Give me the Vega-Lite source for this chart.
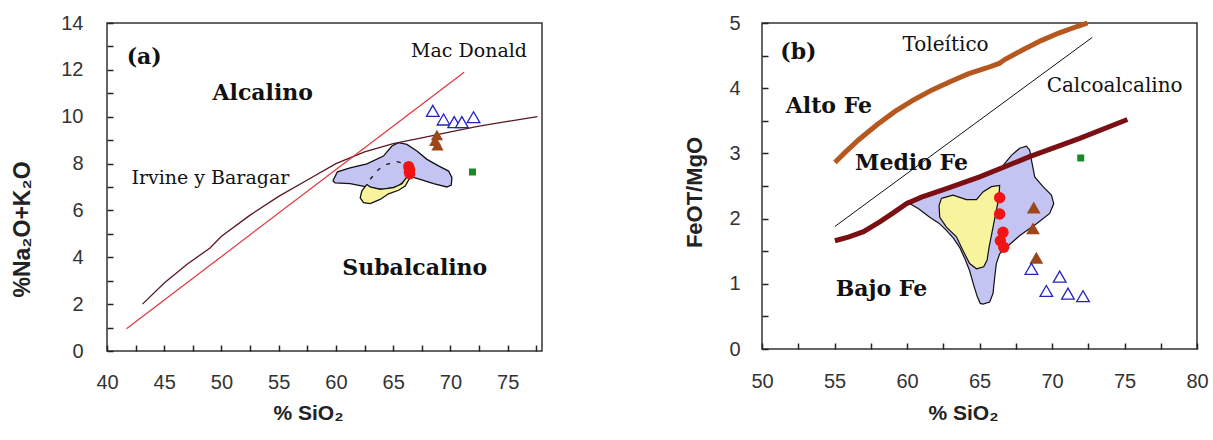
{
  "$schema": "https://vega.github.io/schema/vega-lite/v6.json",
  "padding": {"left": 10, "top": 12, "right": 0, "bottom": 0},
  "bounds": "flush",
  "spacing": 220,
  "background": "white",
  "hconcat": [
    {
      "width": 435,
      "height": 328,
      "encoding": {
        "x": {"field": "x", "type": "quantitative",
          "scale": {"domain": [40, 78], "nice": false, "zero": false},
          "axis": {"values": [40, 42.5, 45, 47.5, 50, 52.5, 55, 57.5, 60, 62.5, 65, 67.5, 70, 72.5, 75, 77.5],
            "labelExpr": "datum.value % 5 === 0 ? datum.label : ''",
            "labelPadding": 21, "title": "% SiO₂", "titleX": 201, "titleY": 57, "titleBaseline": "top", "titleAlign": "center"}},
        "y": {"field": "y", "type": "quantitative",
          "scale": {"domain": [0, 14], "nice": false},
          "axis": {"values": [0, 1, 2, 3, 4, 5, 6, 7, 8, 9, 10, 11, 12, 13, 14],
            "labelExpr": "datum.value % 2 === 0 ? datum.label : ''",
            "labelPadding": 24, "title": "%Na₂O+K₂O", "titleFontSize": 23, "titleAngle": -90, "titleX": -79, "titleY": 206, "titleBaseline": "bottom", "titleAlign": "center"}}
      },
      "layer": [
        {
          "data": {"values": [
            {"x": 59.73, "y": 7.26}, {"x": 60.13, "y": 7.65}, {"x": 61.24, "y": 7.82}, {"x": 62.70, "y": 7.99},
            {"x": 64.15, "y": 8.32}, {"x": 64.89, "y": 8.75}, {"x": 65.47, "y": 8.89}, {"x": 66.20, "y": 8.82},
            {"x": 67.07, "y": 8.54}, {"x": 67.95, "y": 8.18}, {"x": 68.96, "y": 7.90}, {"x": 69.84, "y": 7.68},
            {"x": 70.13, "y": 7.40}, {"x": 70.07, "y": 7.08}, {"x": 69.69, "y": 7.00}, {"x": 68.53, "y": 7.14},
            {"x": 67.36, "y": 7.33}, {"x": 66.63, "y": 7.43}, {"x": 66.05, "y": 7.26}, {"x": 65.32, "y": 7.00},
            {"x": 64.15, "y": 6.90}, {"x": 62.99, "y": 6.97}, {"x": 61.24, "y": 7.14}, {"x": 59.93, "y": 7.18},
            {"x": 59.73, "y": 7.26}
          ]},
          "mark": {"type": "line", "fill": "#c4c4f2", "stroke": "#111111", "strokeWidth": 1.3},
          "encoding": {"order": {"value": null}}
        },
        {
          "data": {"values": [
            {"x": 62.70, "y": 7.11}, {"x": 62.26, "y": 6.83}, {"x": 62.12, "y": 6.54}, {"x": 62.41, "y": 6.33},
            {"x": 62.99, "y": 6.29}, {"x": 63.86, "y": 6.47}, {"x": 64.59, "y": 6.71}, {"x": 65.47, "y": 6.86},
            {"x": 66.05, "y": 7.04}, {"x": 66.43, "y": 7.37}, {"x": 66.20, "y": 7.43}, {"x": 65.76, "y": 7.14},
            {"x": 65.03, "y": 6.97}, {"x": 63.86, "y": 6.90}, {"x": 62.99, "y": 7.00}, {"x": 62.70, "y": 7.11}
          ]},
          "mark": {"type": "line", "fill": "#f8f49e", "stroke": "#111111", "strokeWidth": 1.3},
          "encoding": {"order": {"value": null}}
        },
        {
          "data": {"values": [
            {"x": 62.99, "y": 7.33}, {"x": 63.72, "y": 7.75}, {"x": 64.45, "y": 7.97}, {"x": 65.32, "y": 8.08},
            {"x": 66.05, "y": 7.99}, {"x": 66.83, "y": 7.61}
          ]},
          "mark": {"type": "line", "stroke": "#111111", "strokeWidth": 1.3, "strokeDash": [4, 7]},
          "encoding": {"order": {"value": null}}
        },
        {
          "data": {"values": [
            {"x": 43.1, "y": 2.0}, {"x": 45, "y": 2.9}, {"x": 47, "y": 3.7}, {"x": 49, "y": 4.4}, {"x": 50, "y": 4.9},
            {"x": 52.5, "y": 5.8}, {"x": 55, "y": 6.6}, {"x": 57.5, "y": 7.3}, {"x": 60, "y": 8.0}, {"x": 62.5, "y": 8.5},
            {"x": 65, "y": 8.85}, {"x": 67.5, "y": 9.1}, {"x": 70, "y": 9.35}, {"x": 72.5, "y": 9.6}, {"x": 75, "y": 9.8},
            {"x": 77.6, "y": 10.0}
          ]},
          "mark": {"type": "line", "color": "#5a1822", "strokeWidth": 1.3},
          "encoding": {"order": {"value": null}}
        },
        {
          "data": {"values": [{"x": 41.7, "y": 0.95}, {"x": 71.2, "y": 11.9}]},
          "mark": {"type": "line", "color": "#e0363a", "strokeWidth": 1.2},
          "encoding": {"order": {"value": null}}
        },
        {
          "data": {"values": [
            {"x": 66.35, "y": 7.88}, {"x": 66.4, "y": 7.8}, {"x": 66.45, "y": 7.72}, {"x": 66.4, "y": 7.64}, {"x": 66.45, "y": 7.56}
          ]},
          "mark": {"type": "point", "shape": "circle", "filled": true, "color": "#f01414", "opacity": 1, "size": 121}
        },
        {
          "data": {"values": [{"x": 68.82, "y": 9.22}, {"x": 68.67, "y": 8.98}, {"x": 68.87, "y": 8.78}]},
          "mark": {"type": "point", "shape": "triangle-up", "filled": true, "color": "#9c461c", "opacity": 1, "size": 150}
        },
        {
          "data": {"values": [
            {"x": 68.46, "y": 10.25}, {"x": 69.4, "y": 9.88}, {"x": 70.33, "y": 9.77}, {"x": 71.0, "y": 9.77}, {"x": 72.02, "y": 9.98}
          ]},
          "mark": {"type": "point", "shape": "triangle-up", "filled": false, "fill": "white", "stroke": "#2424bb", "strokeWidth": 1.3, "opacity": 1, "size": 160}
        },
        {
          "data": {"values": [{"x": 71.93, "y": 7.64}]},
          "mark": {"type": "point", "shape": "square", "filled": true, "color": "#1a8a28", "opacity": 1, "size": 49}
        },
        {
          "data": {"values": [{"x": 66.56, "y": 12.8, "t": "Mac Donald"}, {"x": 42.13, "y": 7.4, "t": "Irvine y Baragar"}]},
          "mark": {"type": "text", "align": "left", "baseline": "middle", "font": "DejaVu Serif", "fontSize": 19, "color": "#111111"},
          "encoding": {"text": {"field": "t"}}
        },
        {
          "data": {"values": [{"x": 49.22, "y": 11.02, "t": "Alcalino"}, {"x": 60.56, "y": 3.56, "t": "Subalcalino"}]},
          "mark": {"type": "text", "align": "left", "baseline": "middle", "font": "DejaVu Serif", "fontSize": 22, "fontWeight": "bold", "color": "#111111"},
          "encoding": {"text": {"field": "t"}}
        },
        {
          "data": {"values": [{"x": 41.72, "y": 12.56, "t": "(a)"}]},
          "mark": {"type": "text", "align": "left", "baseline": "middle", "font": "DejaVu Serif", "fontSize": 22, "fontWeight": "bold", "color": "#111111"},
          "encoding": {"text": {"field": "t"}}
        }
      ]
    },
    {
      "width": 435,
      "height": 326,
      "encoding": {
        "x": {"field": "x", "type": "quantitative",
          "scale": {"domain": [50, 80], "nice": false, "zero": false},
          "axis": {"values": [50, 52.5, 55, 57.5, 60, 62.5, 65, 67.5, 70, 72.5, 75, 77.5, 80],
            "labelExpr": "datum.value % 5 === 0 ? datum.label : ''",
            "labelPadding": 22, "title": "% SiO₂", "titleX": 201, "titleY": 59, "titleBaseline": "top", "titleAlign": "center"}},
        "y": {"field": "y", "type": "quantitative",
          "scale": {"domain": [0, 5], "nice": false},
          "axis": {"values": [0, 0.5, 1, 1.5, 2, 2.5, 3, 3.5, 4, 4.5, 5], "format": ".0f",
            "labelExpr": "datum.value % 1 === 0 ? datum.label : ''",
            "labelPadding": 22, "title": "FeOT/MgO", "titleFontSize": 22, "titleAngle": -90, "titleX": -62, "titleY": 169, "titleBaseline": "bottom", "titleAlign": "center"}}
      },
      "layer": [
        {
          "data": {"values": [
            {"x": 59.96, "y": 2.26}, {"x": 60.8, "y": 2.15}, {"x": 61.57, "y": 2.02}, {"x": 62.2, "y": 1.93},
            {"x": 62.72, "y": 1.82}, {"x": 63.2, "y": 1.7}, {"x": 63.63, "y": 1.56}, {"x": 64.0, "y": 1.38},
            {"x": 64.32, "y": 1.2}, {"x": 64.6, "y": 0.98}, {"x": 64.85, "y": 0.8}, {"x": 65.05, "y": 0.7},
            {"x": 65.24, "y": 0.69}, {"x": 65.7, "y": 0.72}, {"x": 65.93, "y": 0.85}, {"x": 66.05, "y": 1.1},
            {"x": 66.16, "y": 1.31}, {"x": 66.39, "y": 1.46}, {"x": 66.86, "y": 1.56}, {"x": 67.78, "y": 1.74},
            {"x": 68.93, "y": 1.92}, {"x": 69.84, "y": 2.08}, {"x": 70.12, "y": 2.23}, {"x": 69.96, "y": 2.36},
            {"x": 69.38, "y": 2.49}, {"x": 68.81, "y": 2.64}, {"x": 68.58, "y": 2.9}, {"x": 68.46, "y": 3.05},
            {"x": 68.23, "y": 3.11}, {"x": 67.77, "y": 3.08}, {"x": 67.2, "y": 2.97}, {"x": 66.5, "y": 2.78},
            {"x": 65.0, "y": 2.64}, {"x": 63.5, "y": 2.52}, {"x": 62.0, "y": 2.4}, {"x": 61.0, "y": 2.33},
            {"x": 59.96, "y": 2.26}
          ]},
          "mark": {"type": "line", "fill": "#c4c4f2", "stroke": "#111111", "strokeWidth": 1.2},
          "encoding": {"order": {"value": null}}
        },
        {
          "data": {"values": [
            {"x": 62.37, "y": 2.31}, {"x": 63.17, "y": 2.36}, {"x": 64.10, "y": 2.29}, {"x": 64.79, "y": 2.29},
            {"x": 65.24, "y": 2.41}, {"x": 65.82, "y": 2.49}, {"x": 66.39, "y": 2.51}, {"x": 66.34, "y": 2.33},
            {"x": 66.12, "y": 2.08}, {"x": 65.89, "y": 1.82}, {"x": 65.66, "y": 1.56}, {"x": 65.52, "y": 1.36},
            {"x": 65.29, "y": 1.26}, {"x": 64.79, "y": 1.23}, {"x": 64.32, "y": 1.31}, {"x": 63.86, "y": 1.51},
            {"x": 63.41, "y": 1.72}, {"x": 62.72, "y": 1.87}, {"x": 62.26, "y": 2.02}, {"x": 62.21, "y": 2.2},
            {"x": 62.37, "y": 2.31}
          ]},
          "mark": {"type": "line", "fill": "#f8f49e", "stroke": "#111111", "strokeWidth": 1.2},
          "encoding": {"order": {"value": null}}
        },
        {
          "data": {"values": [{"x": 55.03, "y": 1.88}, {"x": 72.78, "y": 4.78}]},
          "mark": {"type": "line", "color": "#111111", "strokeWidth": 1},
          "encoding": {"order": {"value": null}}
        },
        {
          "data": {"values": [
            {"x": 55.03, "y": 2.86}, {"x": 55.66, "y": 3.0}, {"x": 56.67, "y": 3.21}, {"x": 57.93, "y": 3.44},
            {"x": 59.15, "y": 3.64}, {"x": 60.45, "y": 3.82}, {"x": 61.70, "y": 3.97}, {"x": 62.96, "y": 4.10},
            {"x": 64.22, "y": 4.22}, {"x": 65.48, "y": 4.31}, {"x": 66.36, "y": 4.38}, {"x": 66.74, "y": 4.44},
            {"x": 68.0, "y": 4.59}, {"x": 69.25, "y": 4.73}, {"x": 70.51, "y": 4.85}, {"x": 71.77, "y": 4.95},
            {"x": 72.45, "y": 5.0}
          ]},
          "mark": {"type": "line", "color": "#b5571f", "strokeWidth": 5},
          "encoding": {"order": {"value": null}}
        },
        {
          "data": {"values": [
            {"x": 55.03, "y": 1.66}, {"x": 56, "y": 1.72}, {"x": 57, "y": 1.8}, {"x": 58.12, "y": 1.95},
            {"x": 59.0, "y": 2.08}, {"x": 59.96, "y": 2.23}, {"x": 61, "y": 2.33}, {"x": 62.72, "y": 2.46},
            {"x": 65.01, "y": 2.64}, {"x": 68.46, "y": 2.95}, {"x": 71.91, "y": 3.23}, {"x": 75.2, "y": 3.52}
          ]},
          "mark": {"type": "line", "color": "#7a0f14", "strokeWidth": 5},
          "encoding": {"order": {"value": null}}
        },
        {
          "data": {"values": [
            {"x": 66.39, "y": 2.32}, {"x": 66.39, "y": 2.07}, {"x": 66.62, "y": 1.79}, {"x": 66.44, "y": 1.66}, {"x": 66.67, "y": 1.56}
          ]},
          "mark": {"type": "point", "shape": "circle", "filled": true, "color": "#f01414", "opacity": 1, "size": 130}
        },
        {
          "data": {"values": [{"x": 68.74, "y": 2.17}, {"x": 68.69, "y": 1.85}, {"x": 68.92, "y": 1.40}]},
          "mark": {"type": "point", "shape": "triangle-up", "filled": true, "color": "#9c461c", "opacity": 1, "size": 190}
        },
        {
          "data": {"values": [
            {"x": 68.58, "y": 1.23}, {"x": 70.53, "y": 1.11}, {"x": 69.61, "y": 0.89}, {"x": 71.10, "y": 0.85}, {"x": 72.14, "y": 0.81}
          ]},
          "mark": {"type": "point", "shape": "triangle-up", "filled": false, "fill": "white", "stroke": "#2424bb", "strokeWidth": 1.3, "opacity": 1, "size": 160}
        },
        {
          "data": {"values": [{"x": 71.98, "y": 2.93}]},
          "mark": {"type": "point", "shape": "square", "filled": true, "color": "#1a8a28", "opacity": 1, "size": 49}
        },
        {
          "data": {"values": [{"x": 59.69, "y": 4.67, "t": "Toleítico"}, {"x": 69.63, "y": 4.03, "t": "Calcoalcalino"}]},
          "mark": {"type": "text", "align": "left", "baseline": "middle", "font": "DejaVu Serif", "fontSize": 20, "color": "#111111"},
          "encoding": {"text": {"field": "t"}}
        },
        {
          "data": {"values": [{"x": 51.64, "y": 3.72, "t": "Alto Fe"}, {"x": 56.42, "y": 2.86, "t": "Medio Fe"}, {"x": 55.08, "y": 0.92, "t": "Bajo Fe"}]},
          "mark": {"type": "text", "align": "left", "baseline": "middle", "font": "DejaVu Serif", "fontSize": 22, "fontWeight": "bold", "color": "#111111"},
          "encoding": {"text": {"field": "t"}}
        },
        {
          "data": {"values": [{"x": 51.26, "y": 4.55, "t": "(b)"}]},
          "mark": {"type": "text", "align": "left", "baseline": "middle", "font": "DejaVu Serif", "fontSize": 22, "fontWeight": "bold", "color": "#111111"},
          "encoding": {"text": {"field": "t"}}
        }
      ]
    }
  ],
  "config": {
    "view": {"stroke": "#333333", "strokeWidth": 1.5},
    "axis": {
      "zindex": 1, "offset": -6, "domain": false,
      "grid": false, "ticks": true,
      "tickColor": "#222222", "tickWidth": 1.5, "tickSize": 6, "tickOpacity": 1,
      "labelFont": "Liberation Sans", "labelFontSize": 20, "labelColor": "#333333",
      "labelFlush": false, "labelOverlap": false,
      "titleFont": "Liberation Sans", "titleFontSize": 21, "titleFontWeight": "bold", "titleColor": "#222222"
    }
  }
}
